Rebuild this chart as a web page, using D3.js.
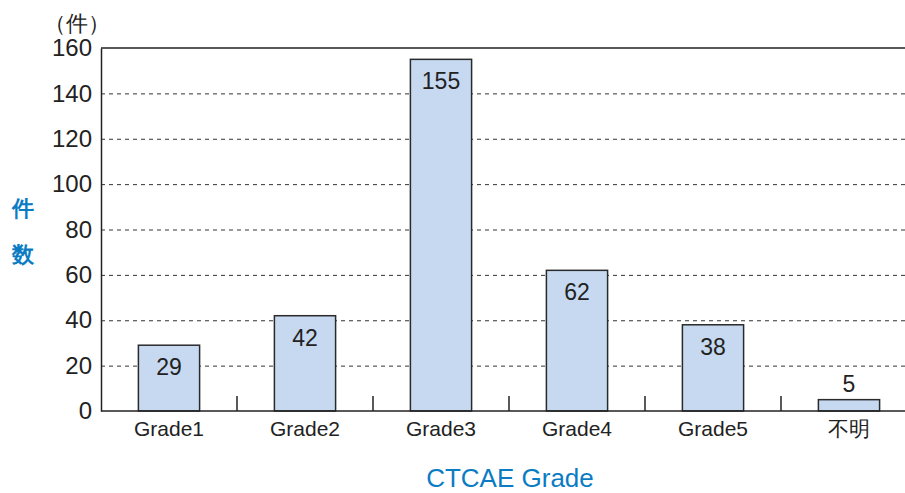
<!DOCTYPE html>
<html>
<head>
<meta charset="utf-8">
<script src="https://cdn.jsdelivr.net/npm/d3@7"></script>
<style>
body { margin: 0; background: #fff; }
text { font-family: "Liberation Sans", Arial, sans-serif; }
</style>
</head>
<body>
<script>
// data
var categories = ['Grade1', 'Grade2', 'Grade3', 'Grade4', 'Grade5', '不明'];
var counts = [29, 42, 155, 62, 38, 5];
var yTicks = [0, 20, 40, 60, 80, 100, 120, 140, 160];

var width = 905, height = 493;
var plotLeft = 101, plotRight = 917, plotTop = 48, plotBottom = 411;
var blue = '#0b7cc3';
var sans = '"Liberation Sans", Arial, sans-serif';
var cjk = '"Noto Sans CJK JP", sans-serif';

var svg = d3.select('body').append('svg')
    .attr('width', width)
    .attr('height', height);

var x = d3.scaleBand().domain(categories).range([plotLeft, plotRight]).paddingInner(0.55).paddingOuter(0.275);
var y = d3.scaleLinear().domain([0, 160]).range([plotBottom, plotTop]);

// dashed grid
svg.append('g').selectAll('line')
    .data(yTicks.filter(function(d) { return d > 0 && d < 160; }))
    .enter().append('line')
    .attr('x1', plotLeft).attr('x2', width)
    .attr('y1', function(d) { return y(d) + 0.5; })
    .attr('y2', function(d) { return y(d) + 0.5; })
    .attr('stroke', '#333')
    .attr('stroke-width', 1)
    .attr('stroke-dasharray', '4,4');

// top line
svg.append('line')
    .attr('x1', plotLeft).attr('x2', width)
    .attr('y1', y(160)).attr('y2', y(160))
    .attr('stroke', '#222').attr('stroke-width', 1.5);

// bars
svg.append('g').selectAll('rect')
    .data(counts)
    .enter().append('rect')
    .attr('x', function(d, i) { return x(categories[i]); })
    .attr('y', function(d) { return y(d); })
    .attr('width', x.bandwidth())
    .attr('height', function(d) { return y(0) - y(d); })
    .attr('fill', '#c6d9f0')
    .attr('stroke', '#2a2a2a')
    .attr('stroke-width', 1.5);

// value labels
svg.append('g').selectAll('text')
    .data(counts)
    .enter().append('text')
    .attr('x', function(d, i) { return x(categories[i]) + x.bandwidth() / 2; })
    .attr('y', function(d) { return d < 10 ? y(d) - 8 : y(d) + 30; })
    .attr('text-anchor', 'middle')
    .attr('font-size', 23)
    .attr('fill', '#222')
    .text(function(d) { return d; });

// y axis
var yAxis = svg.append('g')
    .attr('transform', 'translate(' + plotLeft + ',0)')
    .call(d3.axisLeft(y).tickValues(yTicks).tickSize(0).tickPadding(9));
yAxis.select('.domain').attr('stroke', '#222').attr('stroke-width', 1.5);
yAxis.selectAll('text').attr('font-size', 24).attr('fill', '#222')
    .attr('font-family', sans);

// x axis
var xAxis = svg.append('g')
    .attr('transform', 'translate(0,' + plotBottom + ')')
    .call(d3.axisBottom(x).tickSize(0).tickPadding(10));
xAxis.select('.domain').remove();
xAxis.selectAll('text').attr('font-size', 21).attr('fill', '#222')
    .attr('font-family', function(d) { return d === '不明' ? cjk : sans; });

svg.append('line')
    .attr('x1', plotLeft).attr('x2', width)
    .attr('y1', plotBottom).attr('y2', plotBottom)
    .attr('stroke', '#222').attr('stroke-width', 1.5);

// separators between categories
svg.append('g').selectAll('line')
    .data(categories.slice(1))
    .enter().append('line')
    .attr('x1', function(d) { return x(d) - x.step() * x.paddingInner() / 2; })
    .attr('x2', function(d) { return x(d) - x.step() * x.paddingInner() / 2; })
    .attr('y1', plotBottom).attr('y2', plotBottom - 15)
    .attr('stroke', '#222').attr('stroke-width', 1.5);

// titles
svg.append('text')
    .attr('x', 77).attr('y', 31)
    .attr('text-anchor', 'middle')
    .attr('font-family', cjk)
    .attr('font-size', 22)
    .attr('fill', '#222')
    .text('（件）');

svg.append('text')
    .attr('x', 23).attr('y', 216)
    .attr('text-anchor', 'middle')
    .attr('font-family', cjk)
    .attr('font-weight', 'bold')
    .attr('font-size', 22)
    .attr('fill', blue)
    .text('件');
svg.append('text')
    .attr('x', 23).attr('y', 262)
    .attr('text-anchor', 'middle')
    .attr('font-family', cjk)
    .attr('font-weight', 'bold')
    .attr('font-size', 22)
    .attr('fill', blue)
    .text('数');

svg.append('text')
    .attr('x', 510).attr('y', 487)
    .attr('text-anchor', 'middle')
    .attr('font-size', 26)
    .attr('fill', blue)
    .text('CTCAE Grade');
</script>
</body>
</html>
